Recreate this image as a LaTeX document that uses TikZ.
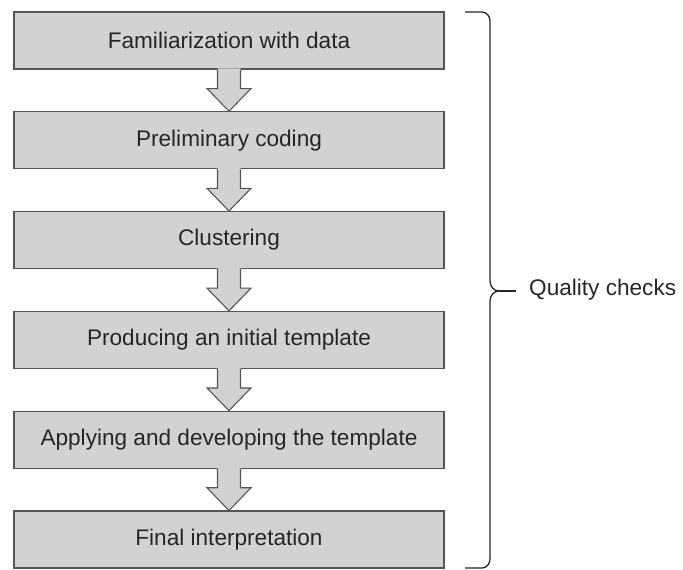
\documentclass[tikz,border=0pt]{standalone}
\usepackage{fontspec}
\setmainfont{Liberation Sans}
\usetikzlibrary{calc}
\definecolor{boxfill}{RGB}{210,210,210}
\definecolor{boxline}{RGB}{85,85,85}
\tikzset{
  stepbox/.style={draw=boxline, line width=1.1pt, fill=boxfill,
    minimum width=430pt, minimum height=57pt, inner sep=0pt,
    font=\fontsize{22.6}{26}\selectfont, text=black!85},
  arrowline/.style={draw=boxline, line width=1.1pt, line join=miter},
  bracestyle/.style={draw=black!85, line width=1.3pt}
}
\begin{document}
\begin{tikzpicture}[x=1pt,y=1pt]
\useasboundingbox (0,0) rectangle (683,-570);
\node[stepbox] (s1) at (229,-40.5) {Familiarization with data};
\node[stepbox] (s2) at (229,-140.3) {Preliminary coding};
\node[stepbox] (s3) at (229,-240.1) {Clustering};
\node[stepbox] (s4) at (229,-339.9) {Producing an initial template};
\node[stepbox] (s5) at (229,-439.7) {Applying and developing the template};
\node[stepbox] (s6) at (229,-539.5) {Final interpretation};
\foreach \a/\b in {s1/s2,s2/s3,s3/s4,s4/s5,s5/s6}{
  \fill[boxfill] ($(\a.south)+(-11.5,1.2)$) -- ($(\a.south)+(-11.5,-19)$)
    -- ($(\a.south)+(-22,-19)$) -- (\b.north) -- ($(\a.south)+(22,-19)$)
    -- ($(\a.south)+(11.5,-19)$) -- ($(\a.south)+(11.5,1.2)$) -- cycle;
  \draw[arrowline] ($(\a.south)+(-11.5,0)$) -- ($(\a.south)+(-11.5,-19)$)
    -- ($(\a.south)+(-22,-19)$) -- (\b.north) -- ($(\a.south)+(22,-19)$)
    -- ($(\a.south)+(11.5,-19)$) -- ($(\a.south)+(11.5,0)$);
}
\coordinate (btop) at (465,-12);
\coordinate (bbot) at (465,-568);
\coordinate (btip) at (516,-291);
\draw[bracestyle] (btop) -- (482,-12) to[out=0,in=90] (490,-21)
  -- (490,-281) to[out=-90,in=180] (499,-291) to[out=180,in=90] (490,-301)
  -- (490,-559) to[out=-90,in=0] (482,-568) -- (bbot);
\draw[bracestyle] (499,-291) -- (btip);
\node[anchor=west, inner sep=0pt, font=\fontsize{22.6}{26}\selectfont, text=black!85] (qc) at (529,-290) {Quality checks};
\end{tikzpicture}
\end{document}
